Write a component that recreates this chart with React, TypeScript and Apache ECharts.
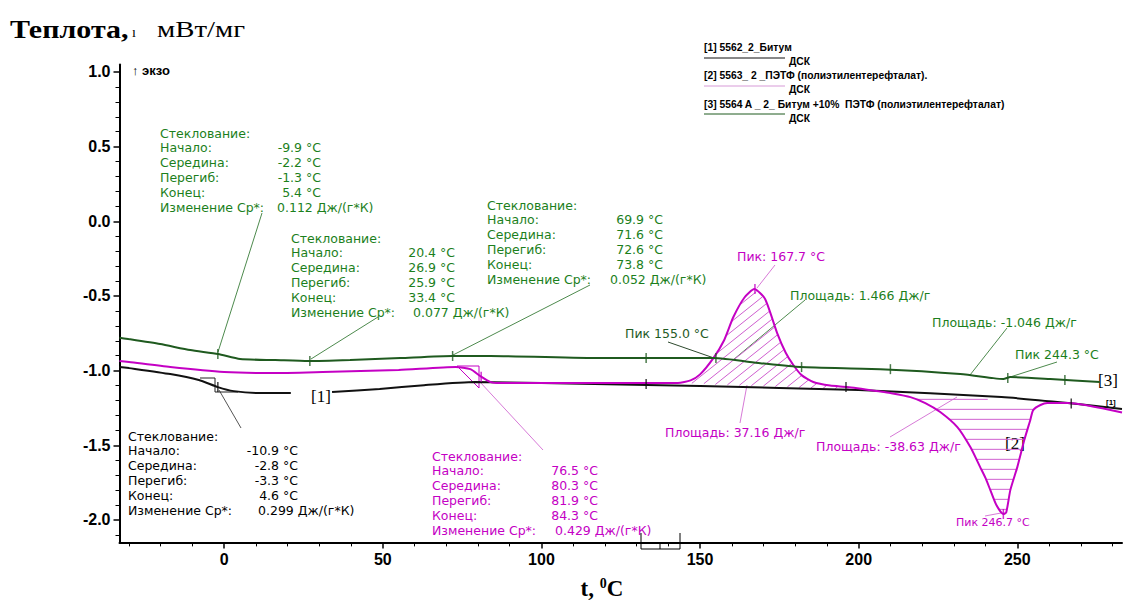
import React, { useEffect, useRef } from "react";
import * as echarts from "echarts";

// ---------- axes ----------
const xMajor = [0, 50, 100, 150, 200, 250];
const xMinor = [-30, -20, -10, 10, 20, 30, 40, 60, 70, 80, 90, 110, 120, 130, 140, 160, 170, 180, 190, 210, 220, 230, 240, 260, 270, 280];
const yMajor = [-2.0, -1.5, -1.0, -0.5, 0.0, 0.5, 1.0];
const yMinor = [-2.1, -1.9, -1.8, -1.7, -1.6, -1.4, -1.3, -1.2, -1.1, -0.9, -0.8, -0.7, -0.6, -0.4, -0.3, -0.2, -0.1, 0.1, 0.2, 0.3, 0.4, 0.6, 0.7, 0.8, 0.9];

// ---------- [1] Битум (black) ----------
const bitT = [-33, -30, -17, -8, -2, 3, 11, 21, 27, 34, 49, 63, 79, 100, 150, 200, 245, 266, 283];
const bitV = [-0.975, -0.983, -1.023, -1.063, -1.11, -1.137, -1.15, -1.15, null, -1.143, -1.123, -1.097, -1.076, -1.083, -1.103, -1.13, -1.177, -1.217, -1.257];

// ---------- [2] ПЭТФ (magenta) ----------
const petT = [-33, -30, -17, 0, 15, 31, 55, 73, 77.6, 80.7, 84, 87, 100, 125, 143, 147, 150, 154.2, 157.5, 160.5, 164, 167.1, 170.5, 174.3, 177, 179.4, 182, 185.7, 191, 196.4, 206.8, 210, 216.3, 221, 225.7, 231.1, 235.2, 238.3, 240, 241.5, 243.4, 245.6, 246.5, 247.8, 250, 252.2, 254.1, 255, 257.3, 259.5, 265.8, 283];
const petV = [-0.935, -0.942, -0.976, -1.009, -1.016, -1.009, -0.996, -0.976, -0.99, -1.036, -1.077, -1.083, -1.083, -1.083, -1.083, -1.065, -1.025, -0.916, -0.8, -0.641, -0.51, -0.454, -0.52, -0.748, -0.88, -0.962, -1.03, -1.076, -1.1, -1.11, -1.14, -1.15, -1.177, -1.217, -1.277, -1.378, -1.512, -1.646, -1.72, -1.8, -1.9, -1.96, -1.95, -1.8, -1.646, -1.465, -1.33, -1.264, -1.23, -1.217, -1.217, -1.28];

// ---------- [3] Битум +10% ПЭТФ (green) ----------
const blendT = [-33, -30.3, -20.2, -10.7, -1.9, 5, 16.1, 26.5, 39.7, 55.5, 71.9, 83.9, 118.5, 154.2, 169, 181.6, 206.8, 232, 242.4, 245.6, 247.8, 260.4, 276];
const blendV = [-0.78, -0.788, -0.822, -0.862, -0.889, -0.922, -0.929, -0.936, -0.929, -0.916, -0.902, -0.902, -0.916, -0.916, -0.95, -0.976, -0.99, -1.022, -1.05, -1.056, -1.043, -1.056, -1.076];

// ---------- markers ----------
const blendMarkT = [-2, 27, 72, 133, 155, 182, 210, 247, 265];
const blendMarkV = [-0.889, -0.936, -0.902, -0.916, -0.916, -0.976, -0.99, -1.05, -1.062];
const bitMarkT = [-2, 133, 196, 267];
const bitMarkV = [-1.11, -1.09, -1.11, -1.22];
const petMarkT = [81, 167.3, 245.6];
const petMarkV = [-1.04, -0.454, -1.96];

// ---------- integration baselines ----------
const exoBaseT = [143, 200];
const exoBaseV = [-1.083, -1.13];
const endoBaseT = [212, 262];
const endoBaseV = [-1.165, -1.212];

// ---------- texts ----------
const glassLabels = ["Стеклование:", "Начало:", "Середина:", "Перегиб:", "Конец:", "Изменение Ср*:"];
const glass1 = ["-9.9 °C", "-2.2 °C", "-1.3 °C", "5.4 °C", "0.112 Дж/(г*К)"];
const glass2 = ["20.4 °C", "26.9 °C", "25.9 °C", "33.4 °C", "0.077 Дж/(г*К)"];
const glass3 = ["69.9 °C", "71.6 °C", "72.6 °C", "73.8 °C", "0.052 Дж/(г*К)"];
const glass4 = ["-10.9 °C", "-2.8 °C", "-3.3 °C", "4.6 °C", "0.299 Дж/(г*К)"];
const glass5 = ["76.5 °C", "80.3 °C", "81.9 °C", "84.3 °C", "0.429 Дж/(г*К)"];
const legendNames = [
  "[1] 5562_2_Битум",
  "[2] 5563_ 2 _ПЭТФ (полиэтилентерефталат).",
  "[3] 5564 A _ 2_ Битум +10%  ПЭТФ (полиэтилентерефталат)",
];

const SANS = "'Liberation Sans', Arial, sans-serif";
const WIDE = "'DejaVu Sans', Verdana, sans-serif";
const SERIF = "'Liberation Serif', 'Times New Roman', serif";
const GREEN_TXT = "#1c7f1c";
const GREEN = "#1f5a1f";
const MAG = "#c400c4";
const BLACK = "#111111";

function txt(x: number, y: number, text: string, fill: string, font: string, align = "left", scaleX = 1) {
  return {
    type: "text",
    x,
    y,
    scaleX,
    silent: true,
    style: { text, fill, font, align, textAlign: align, verticalAlign: "middle", textVerticalAlign: "middle" },
  };
}
function ln(x1: number, y1: number, x2: number, y2: number, stroke: string, w = 1) {
  return { type: "line", silent: true, shape: { x1, y1, x2, y2 }, style: { stroke, lineWidth: w } };
}
function pl(points: number[][], stroke: string, w = 1) {
  return { type: "polyline", silent: true, shape: { points }, style: { stroke, lineWidth: w, fill: null } };
}

function glassBlock(x: number, y: number, vRight: number, cpX: number, vals: string[], color: string, step = 14.8) {
  const font = `12.5px ${WIDE}`;
  const out: any[] = [];
  glassLabels.forEach((l, i) => out.push(txt(x, y + i * step, l, color, font)));
  vals.forEach((v, i) => {
    if (i < 4) out.push(txt(vRight, y + (i + 1) * step, v, color, font, "right"));
    else out.push(txt(cpX, y + (i + 1) * step, v, color, font, "left"));
  });
  return out;
}

function interp(poly: number[][], x: number) {
  for (let i = 0; i < poly.length - 1; i++) {
    const a = poly[i], b = poly[i + 1];
    if (x >= a[0] && x <= b[0]) {
      const f = b[0] === a[0] ? 0 : (x - a[0]) / (b[0] - a[0]);
      return a[1] + f * (b[1] - a[1]);
    }
  }
  return null;
}

function addHatch(children: any[], curve: number[][], base: number[][], slope: number, step: number, above: boolean, color: string) {
  const x0 = base[0][0], x1 = base[1][0];
  let minY = Infinity, maxY = -Infinity;
  for (let x = x0; x <= x1; x += 1) {
    const cy = interp(curve, x), by = interp(base, x);
    if (cy == null || by == null) continue;
    minY = Math.min(minY, cy, by);
    maxY = Math.max(maxY, cy, by);
  }
  const cs = [minY - slope * x0, minY - slope * x1, maxY - slope * x0, maxY - slope * x1];
  const cmin = Math.min(...cs), cmax = Math.max(...cs);
  for (let c = cmin + step / 2; c <= cmax; c += step) {
    let start: number[] | null = null;
    let last: number[] | null = null;
    for (let x = x0; x <= x1 + 0.01; x += 0.5) {
      const y = c + slope * x;
      const cy = interp(curve, x), by = interp(base, x);
      let inside = false;
      if (cy != null && by != null) inside = above ? y >= cy && y <= by : y >= by && y <= cy;
      if (inside) {
        if (!start) start = [x, y];
        last = [x, y];
      } else if (start && last) {
        children.push({ type: "line", shape: { x1: start[0], y1: start[1], x2: last[0], y2: last[1] }, style: { stroke: color, lineWidth: 1 } });
        start = null;
        last = null;
      }
    }
    if (start && last) children.push({ type: "line", shape: { x1: start[0], y1: start[1], x2: last[0], y2: last[1] }, style: { stroke: color, lineWidth: 1 } });
  }
}

const pairs = (t: number[], v: (number | null)[]) => t.map((x, i) => [x, v[i] == null ? "-" : v[i]]);

export default function App() {
  const ref = useRef<HTMLDivElement>(null);
  useEffect(() => {
    if (!ref.current) return;
    const chart = echarts.init(ref.current, undefined, { renderer: "svg" });
    const axisFont = { fontFamily: SANS, fontWeight: "bold", fontSize: 16, color: "#000" };
    const LEG = `bold 10.3px ${SANS}`;
    const ANN = `12.5px ${WIDE}`;
    const graphics: any[] = [
      txt(10, 29, "Теплота,", "#000", `bold 25px ${SERIF}`, "left", 1.2),
      txt(132, 32, "ı", "#000", `14px ${SERIF}`),
      txt(157, 29, "мВт/мг", "#000", `24px ${SERIF}`, "left", 1.2),
      txt(132, 70, "↑ экзо", "#000", `bold 13px ${SANS}`),
      // legend
      txt(704, 47, legendNames[0], "#000", LEG),
      ln(704, 58, 785, 58, BLACK),
      txt(789, 61, "ДСК", "#000", LEG),
      txt(704, 75, legendNames[1], "#000", LEG),
      ln(704, 86, 785, 86, "#d79ad7"),
      txt(789, 89, "ДСК", "#000", LEG),
      txt(704, 104, legendNames[2], "#000", LEG),
      ln(704, 114, 785, 114, GREEN),
      txt(789, 118, "ДСК", "#000", LEG),
      // glass transition blocks
      ...glassBlock(160, 133, 321, 277, glass1, GREEN_TXT),
      ...glassBlock(291, 238, 455, 413, glass2, GREEN_TXT),
      ...glassBlock(487, 205, 663, 610, glass3, GREEN_TXT),
      ...glassBlock(128, 436, 298, 258, glass4, "#000"),
      ...glassBlock(432, 456, 598, 555, glass5, MAG),
      // peak / area labels
      txt(737, 256, "Пик: 167.7 °C", MAG, ANN),
      txt(790, 295, "Площадь: 1.466 Дж/г", GREEN_TXT, ANN),
      txt(625, 333, "Пик 155.0 °C", GREEN, ANN),
      txt(932, 322, "Площадь: -1.046 Дж/г", GREEN_TXT, ANN),
      txt(1015, 354, "Пик 244.3 °C", GREEN_TXT, ANN),
      txt(665, 432, "Площадь: 37.16 Дж/г", MAG, ANN),
      txt(816, 446, "Площадь: -38.63 Дж/г", MAG, ANN),
      txt(956, 522, "Пик 246.7 °C", MAG, `11px ${WIDE}`),
      txt(311, 396, "[1]", "#000", `17px ${SERIF}`),
      txt(1005, 443, "[2]", "#000", `17px ${SERIF}`),
      txt(1098, 380, "[3]", "#000", `17px ${SERIF}`),
      txt(1106, 402, "[1]", "#000", `bold 8px ${SANS}`),
      // leader lines
      ln(262, 213, 218, 352, "#4d8a4d"),
      ln(378, 317, 311, 359, "#4d8a4d"),
      ln(590, 285, 453, 355, "#4d8a4d"),
      ln(805, 300, 733, 360, "#4d8a4d"),
      ln(1007, 328, 970, 375, "#4d8a4d"),
      ln(1057, 362, 1007, 378, "#4d8a4d"),
      ln(668, 342, 714, 358, "#2e4a2e"),
      ln(219, 390, 241, 428, "#555"),
      ln(480, 382, 543, 450, "#d77ad7"),
      ln(775, 265, 757, 288, "#d77ad7"),
      ln(740, 423, 747, 385, "#d77ad7"),
      ln(890, 437, 957, 397, "#d77ad7"),
      ln(985, 516, 1001, 513, "#d77ad7"),
      // construction marks
      pl([[200, 378], [215, 378], [215, 392], [238, 392]], "#222"),
      pl([[457, 366], [479, 366], [479, 388], [457, 366]], MAG),
      pl([[641, 533], [641, 549], [680, 549], [680, 533]], "#000"),
      ln(660, 542, 660, 549, "#000"),
      // x-axis title
      {
        type: "text",
        x: 602,
        y: 588,
        silent: true,
        style: {
          text: "{a|t, }{s|0}{a|C}",
          align: "center",
          textAlign: "center",
          verticalAlign: "middle",
          textVerticalAlign: "middle",
          rich: {
            a: { fontFamily: SERIF, fontWeight: "bold", fontSize: 23, fill: "#000", color: "#000" },
            s: { fontFamily: SERIF, fontWeight: "bold", fontSize: 14, fill: "#000", color: "#000", verticalAlign: "top", padding: [0, 0, 10, 0] },
          },
        },
      },
    ];

    const markSeries = (t: number[], v: number[], color: string) => ({
      type: "scatter",
      symbol: "rect",
      symbolSize: [1.5, 10],
      itemStyle: { color },
      data: pairs(t, v),
      z: 4,
      silent: true,
    });

    chart.setOption({
      animation: false,
      backgroundColor: "#fff",
      grid: { left: 119.5, right: 1, top: 64.5, bottom: 58.6, containLabel: false },
      xAxis: [
        {
          type: "value",
          min: -33,
          max: 283,
          axisLine: { onZero: false, lineStyle: { color: "#000", width: 2 } },
          axisTick: { show: true, customValues: xMajor, length: 6, lineStyle: { color: "#000", width: 1.5 } },
          axisLabel: { customValues: xMajor, margin: 9, ...axisFont },
          splitLine: { show: false },
        },
        {
          type: "value",
          min: -33,
          max: 283,
          position: "bottom",
          axisLine: { show: false, onZero: false },
          axisTick: { show: true, customValues: xMinor, length: 4, lineStyle: { color: "#000", width: 1 } },
          axisLabel: { show: false },
          splitLine: { show: false },
        },
      ],
      yAxis: [
        {
          type: "value",
          min: -2.15,
          max: 1.05,
          axisLine: { show: true, onZero: false, lineStyle: { color: "#000", width: 2 } },
          axisTick: { show: true, customValues: yMajor, length: 6, lineStyle: { color: "#000", width: 1.5 } },
          axisLabel: { customValues: yMajor, margin: 9, formatter: (v: number) => v.toFixed(1), ...axisFont },
          splitLine: { show: false },
        },
        {
          type: "value",
          min: -2.15,
          max: 1.05,
          position: "left",
          axisLine: { show: false, onZero: false },
          axisTick: { show: true, customValues: yMinor, length: 4, lineStyle: { color: "#000", width: 1 } },
          axisLabel: { show: false },
          splitLine: { show: false },
        },
      ],
      series: [
        {
          type: "custom",
          coordinateSystem: "cartesian2d",
          silent: true,
          clip: true,
          z: 1,
          data: [[0, 0]],
          renderItem: (params: any, api: any) => {
            const children: any[] = [];
            const curve = petT.map((t, i) => api.coord([t, petV[i]]));
            const exoBase = exoBaseT.map((t, i) => api.coord([t, exoBaseV[i]]));
            const endoBase = endoBaseT.map((t, i) => api.coord([t, endoBaseV[i]]));
            addHatch(children, curve, exoBase, -0.8, 10, true, "#cf5fcf");
            addHatch(children, curve, endoBase, 0, 10, false, "#cf5fcf");
            return { type: "group", children };
          },
        },
        {
          name: "[1]",
          type: "line",
          data: pairs(bitT, bitV),
          showSymbol: false,
          smooth: 0.2,
          connectNulls: false,
          lineStyle: { color: BLACK, width: 2 },
          z: 2,
          silent: true,
        },
        {
          name: "[2]",
          type: "line",
          data: pairs(petT, petV),
          showSymbol: false,
          smooth: 0.2,
          lineStyle: { color: MAG, width: 2 },
          z: 3,
          silent: true,
        },
        {
          name: "[3]",
          type: "line",
          data: pairs(blendT, blendV),
          showSymbol: false,
          smooth: 0.2,
          lineStyle: { color: GREEN, width: 2 },
          z: 3,
          silent: true,
        },
        markSeries(blendMarkT, blendMarkV, GREEN),
        markSeries(bitMarkT, bitMarkV, BLACK),
        markSeries(petMarkT, petMarkV, MAG),
      ],
      graphic: graphics,
    });
    return () => chart.dispose();
  }, []);
  return <div ref={ref} style={{ position: "absolute", left: 0, top: 0, width: 1123, height: 601, background: "#fff" }} />;
}
